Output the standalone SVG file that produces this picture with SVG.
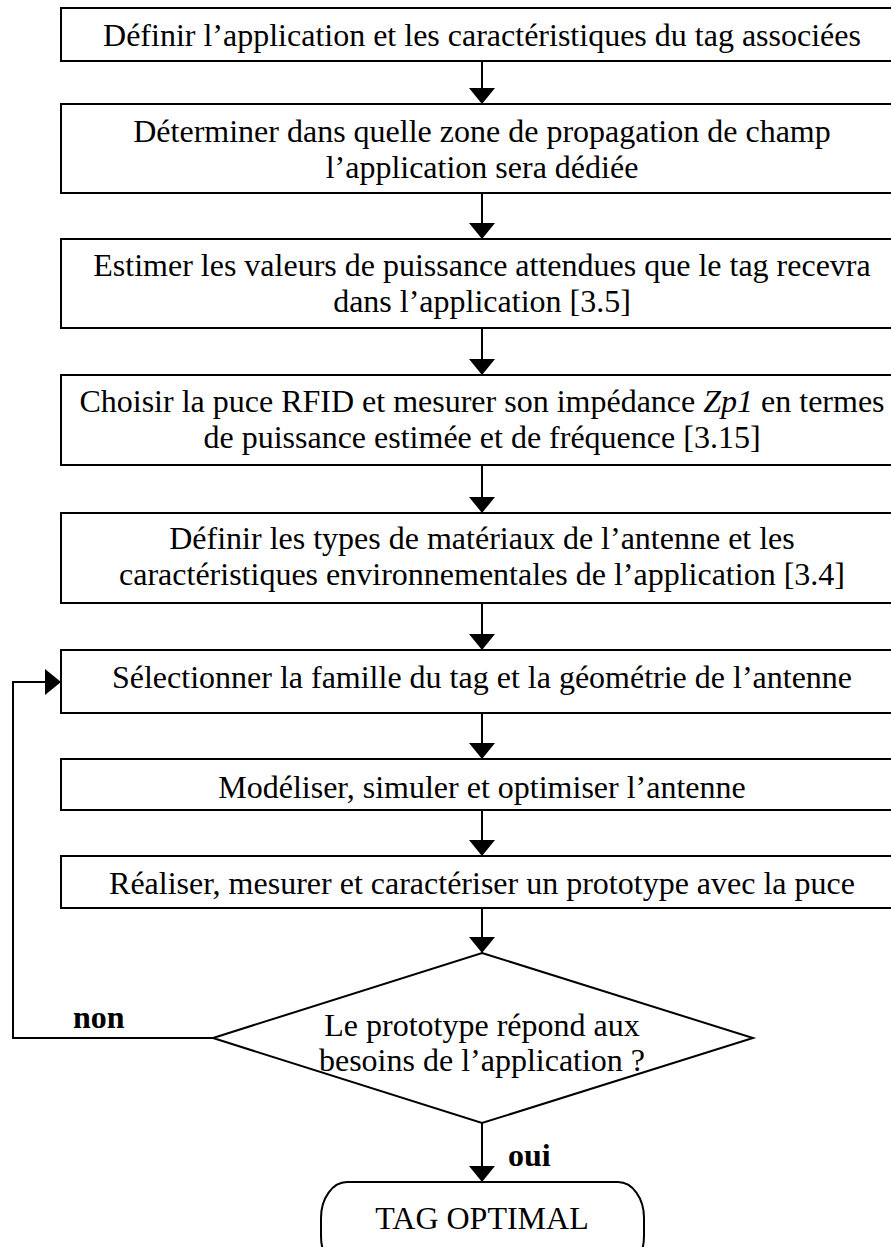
<svg xmlns="http://www.w3.org/2000/svg" width="891" height="1247" viewBox="0 0 891 1247">
<style>
.box{fill:#fff;stroke:#000;stroke-width:2}
.t{font-family:"Liberation Serif","Times New Roman",serif;font-size:32px;fill:#000;text-anchor:middle}
.b{font-family:"Liberation Serif","Times New Roman",serif;font-size:32px;font-weight:bold;fill:#000}
.c{fill:none;stroke:#000;stroke-width:2}
</style>
<defs>
<marker id="arr" viewBox="0 0 16 26" refX="16" refY="13" markerWidth="16" markerHeight="26" markerUnits="userSpaceOnUse" orient="auto">
<path d="M0,0 L16,13 L0,26 Z" fill="#000"/>
</marker>
</defs>
<rect width="891" height="1247" fill="#fff"/>
<g id="connectors">
<line class="c" x1="482" y1="61" x2="482" y2="104" marker-end="url(#arr)"/>
<line class="c" x1="482" y1="193" x2="482" y2="239" marker-end="url(#arr)"/>
<line class="c" x1="482" y1="328" x2="482" y2="375" marker-end="url(#arr)"/>
<line class="c" x1="482" y1="465" x2="482" y2="513" marker-end="url(#arr)"/>
<line class="c" x1="482" y1="603" x2="482" y2="650" marker-end="url(#arr)"/>
<line class="c" x1="482" y1="713" x2="482" y2="759" marker-end="url(#arr)"/>
<line class="c" x1="482" y1="810" x2="482" y2="856" marker-end="url(#arr)"/>
<line class="c" x1="482" y1="908" x2="482" y2="953" marker-end="url(#arr)"/>
<line class="c" x1="482" y1="1123" x2="482" y2="1182" marker-end="url(#arr)"/>
<polyline class="c" points="213,1038 13,1038 13,682 61,682" marker-end="url(#arr)"/>
<text class="b" x="73" y="1028">non</text>
<text class="b" x="508" y="1166">oui</text>
</g>
<g id="n1"><rect class="box" x="61" y="8" width="842" height="53"/>
<text class="t" x="482" y="46">Définir l’application et les caractéristiques du tag associées</text></g>
<g id="n2"><rect class="box" x="61" y="104" width="842" height="89"/>
<text class="t" x="482" y="142">Déterminer dans quelle zone de propagation de champ</text>
<text class="t" x="482" y="178">l’application sera dédiée</text></g>
<g id="n3"><rect class="box" x="61" y="239" width="842" height="89"/>
<text class="t" x="482" y="276">Estimer les valeurs de puissance attendues que le tag recevra</text>
<text class="t" x="482" y="312">dans l’application [3.5]</text></g>
<g id="n4"><rect class="box" x="61" y="375" width="842" height="90"/>
<text class="t" x="482" y="412">Choisir la puce RFID et mesurer son impédance <tspan font-style="italic">Zp1</tspan> en termes</text>
<text class="t" x="482" y="448">de puissance estimée et de fréquence [3.15]</text></g>
<g id="n5"><rect class="box" x="61" y="513" width="842" height="90"/>
<text class="t" x="482" y="549">Définir les types de matériaux de l’antenne et les</text>
<text class="t" x="482" y="585">caractéristiques environnementales de l’application [3.4]</text></g>
<g id="n6"><rect class="box" x="61" y="650" width="842" height="63"/>
<text class="t" x="482" y="688">Sélectionner la famille du tag et la géométrie de l’antenne</text></g>
<g id="n7"><rect class="box" x="61" y="759" width="842" height="51"/>
<text class="t" x="482" y="798">Modéliser, simuler et optimiser l’antenne</text></g>
<g id="n8"><rect class="box" x="61" y="856" width="842" height="52"/>
<text class="t" x="482" y="894">Réaliser, mesurer et caractériser un prototype avec la puce</text></g>
<g id="decision"><polygon class="box" points="482,953 753,1038 482,1123 213,1038"/>
<text class="t" x="482" y="1036">Le prototype répond aux</text>
<text class="t" x="482" y="1071">besoins de l’application ?</text></g>
<g id="end"><rect class="box" x="321" y="1182" width="323" height="90" rx="26" ry="36"/>
<text class="t" x="482" y="1229">TAG OPTIMAL</text></g>
</svg>
